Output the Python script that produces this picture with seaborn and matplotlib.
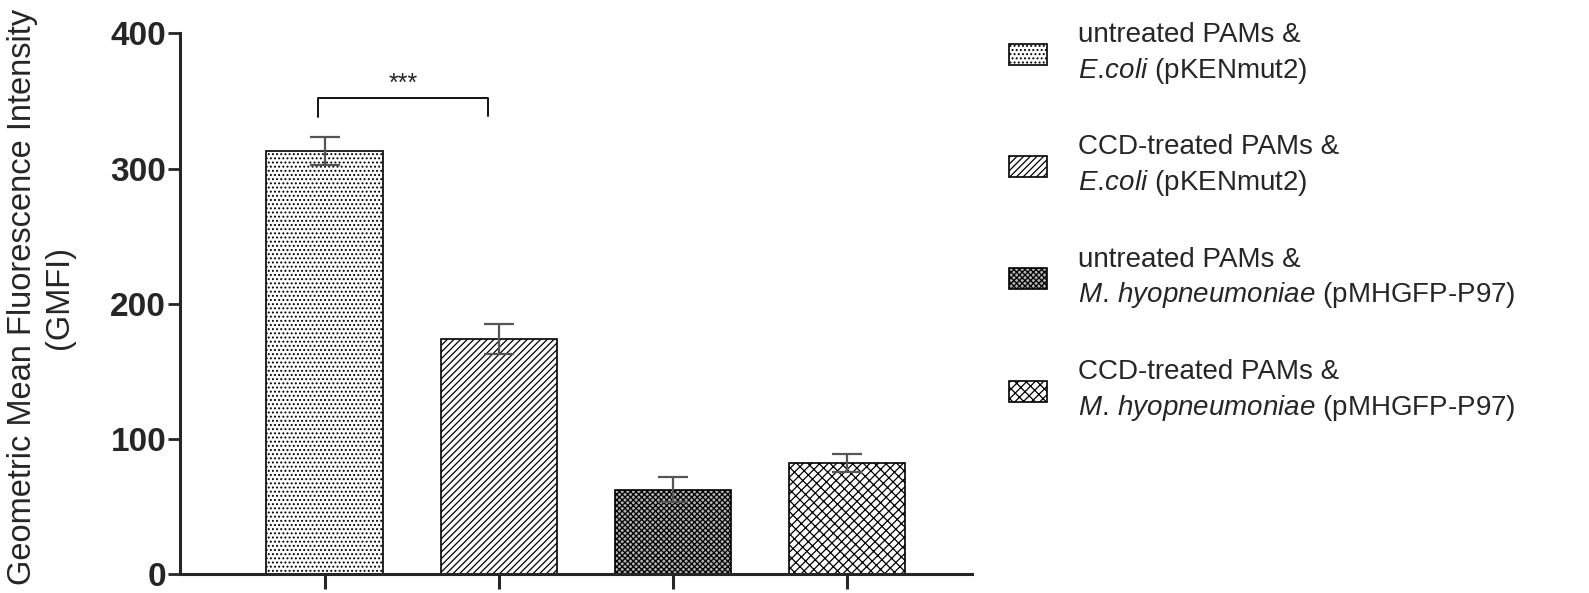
import pandas as pd
import matplotlib.pyplot as plt
import seaborn as sns

# values
groups = ["untreated_Ecoli", "CCD_Ecoli", "untreated_Mhyo", "CCD_Mhyo"]
gmfi = [313, 174, 62.5, 82]
sem = [10.5, 11, 9.5, 6.5]
legend_labels = [
    "untreated PAMs &\n$\\it{E.\\!coli}$ (pKENmut2)",
    "CCD-treated PAMs &\n$\\it{E.\\!coli}$ (pKENmut2)",
    "untreated PAMs &\n$\\it{M.\\!\\ hyopneumoniae}$ (pMHGFP-P97)",
    "CCD-treated PAMs &\n$\\it{M.\\!\\ hyopneumoniae}$ (pMHGFP-P97)",
]
yticks = [0, 100, 200, 300, 400]

sns.set_style("ticks")
plt.rcParams["font.family"] = ["Liberation Sans", "DejaVu Sans"]
plt.rcParams["mathtext.fontset"] = "custom"
plt.rcParams["mathtext.rm"] = "Liberation Sans"
plt.rcParams["mathtext.it"] = "Liberation Sans:italic"
plt.rcParams["hatch.linewidth"] = 0.9

df = pd.DataFrame({"group": groups, "gmfi": gmfi, "sem": sem})

fig = plt.figure(figsize=(15.89, 5.93), dpi=100)
ax = fig.add_axes([0.1133, 0.032, 0.4984, 0.9117])

sns.barplot(data=df, x="group", y="gmfi", hue="group", legend=False,
            palette=["white", "white", "#b0b0b0", "white"],
            edgecolor="black", linewidth=1.2, width=0.667, errorbar=None, ax=ax)

hatches = ["....", "/////", "xxxxxx", "////\\\\\\"]
for patch, h in zip(ax.patches, hatches):
    patch.set_hatch(h)

# error bars
ax.errorbar(range(len(groups)), df["gmfi"], yerr=df["sem"], fmt="none",
            ecolor="#555555", elinewidth=1.6, capsize=11, capthick=1.6)

# significance bracket
ax.plot([-0.04, -0.04, 0.94, 0.94], [338, 352, 352, 339], color="black", lw=1.3)
ax.text(0.45, 362.5, "***", ha="center", va="center", fontsize=18)

ax.set_ylim(0, 400)
ax.set_xlim(-0.83, 3.72)
ax.set_yticks(yticks)
ax.set_xticks(range(len(groups)))
ax.set_xticklabels([""] * len(groups))
ax.set_xlabel("")
ax.tick_params(axis="y", length=9, width=2, pad=1, labelsize=24)
ax.tick_params(axis="x", length=11, width=2.2)
for lbl in ax.get_yticklabels():
    lbl.set_fontweight("bold")
sns.despine(ax=ax)
for s in ["left", "bottom"]:
    ax.spines[s].set_linewidth(2.2)

ax.set_ylabel("Geometric Mean Fluorescence Intensity\n(GMFI)", fontsize=23.5,
              linespacing=1.25)
ax.yaxis.set_label_coords(-0.133, 0.512)

leg = fig.legend(ax.patches[:4], legend_labels, loc="upper left",
                 bbox_to_anchor=(1009 / 1589, 1 - 22 / 593), frameon=False,
                 fontsize=20, handlelength=1.37, handleheight=0.8,
                 handletextpad=1.1, labelspacing=1.75, borderpad=0,
                 borderaxespad=0)
for t in leg.get_texts():
    t.set_linespacing(1.35)

plt.savefig("out.png", dpi=100)
